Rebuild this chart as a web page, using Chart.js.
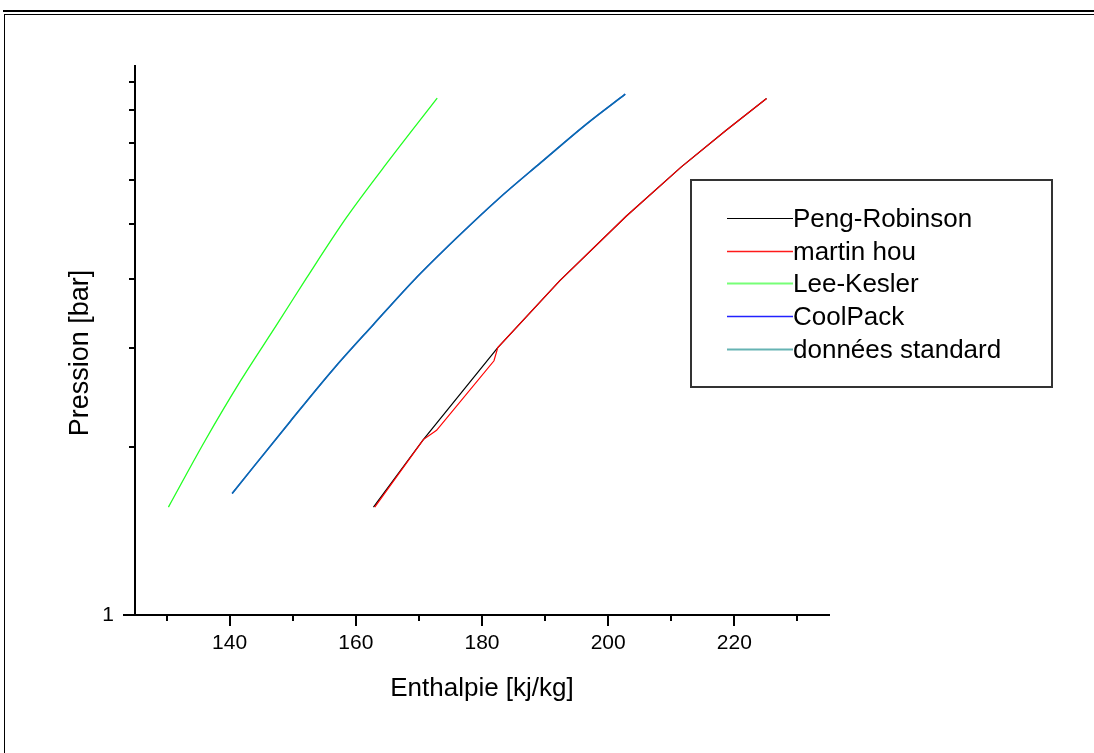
<!DOCTYPE html>
<html>
<head>
<meta charset="utf-8">
<script src="https://cdn.jsdelivr.net/npm/chart.js@4.4.0/dist/chart.umd.min.js"></script>
<style>
  html, body { margin: 0; padding: 0; background: #fff; }
  #wrap { position: relative; width: 1094px; height: 753px; }
</style>
</head>
<body>
<div id="wrap"><canvas id="pChart" width="1094" height="753"></canvas></div>
<script>
// data (enthalpy kJ/kg, pressure bar)
var prX = [162.8, 170.7, 182.5, 192.3, 202.85, 211.55, 218.7, 225.1];
var prY = [1.56, 2.06, 3.01, 3.96, 5.17, 6.33, 7.37, 8.40];

var mhX = [163.0, 170.7, 172.8, 181.9, 182.5, 192.3, 202.85, 211.55, 218.7, 225.1];
var mhY = [1.56, 2.06, 2.14, 2.85, 3.01, 3.96, 5.17, 6.33, 7.37, 8.40];

var lkX = [130.3, 136.1, 141.7, 147.5, 152.2, 158.5, 165.4, 172.9];
var lkY = [1.56, 2.05, 2.62, 3.31, 4.01, 5.14, 6.54, 8.41];

var cpX = [140.4, 149.6, 156.4, 162.8, 169.1, 176.0, 182.5, 189.4, 196.5, 202.7];
var cpY = [1.65, 2.22, 2.75, 3.31, 3.96, 4.73, 5.54, 6.46, 7.55, 8.55];

var stdX = [140.4, 149.6, 156.4, 162.8, 169.1, 176.0, 182.5, 189.4, 196.5, 202.7];
var stdY = [1.65, 2.22, 2.75, 3.31, 3.96, 4.73, 5.54, 6.46, 7.55, 8.55];

var seriesNames = ["Peng-Robinson", "martin hou", "Lee-Kesler", "CoolPack", "données standard"];

var xTicks = [130, 140, 150, 160, 170, 180, 190, 200, 210, 220, 230];
var xTickLabels = ["", "140", "", "160", "", "180", "", "200", "", "220", ""];
var yTicks = [1, 2, 3, 4, 5, 6, 7, 8, 9];
var yTickLabels = ["1", "", "", "", "", "", "", "", ""];

var font = '"Liberation Sans", Arial, sans-serif';

function pts(xs, ys) {
  return xs.map(function(v, i) { return { x: v, y: ys[i] }; });
}

// frame around the figure (double line on top, single on the left)
var framePlugin = {
  id: "frame",
  beforeDraw: function(chart) {
    var ctx = chart.ctx;
    ctx.save();
    ctx.fillStyle = "#000";
    ctx.fillRect(3, 10, 1091, 2);
    ctx.fillRect(4, 14, 1090, 1);
    ctx.fillRect(4, 14, 1, 739);
    ctx.restore();
  }
};

// outward tick marks, long on major and short on minor + y title
var tickPlugin = {
  id: "tickMarks",
  afterDraw: function(chart) {
    var ctx = chart.ctx;
    var xs = chart.scales.x, ys = chart.scales.y;
    ctx.save();
    ctx.strokeStyle = "#000";
    ctx.lineWidth = 2;
    xs.ticks.forEach(function(t) {
      var px = Math.round(xs.getPixelForValue(t.value));
      var len = t.value % 20 === 0 ? 11 : 6;
      ctx.beginPath();
      ctx.moveTo(px, xs.top);
      ctx.lineTo(px, xs.top + len);
      ctx.stroke();
    });
    ys.ticks.forEach(function(t) {
      var py = Math.round(ys.getPixelForValue(t.value));
      var len = t.value === 1 ? 12 : 6;
      ctx.beginPath();
      ctx.moveTo(ys.right, py);
      ctx.lineTo(ys.right - len, py);
      ctx.stroke();
    });
    // y axis title, a bit below the middle like the original
    ctx.translate(81, 353);
    ctx.rotate(-Math.PI / 2);
    ctx.fillStyle = "#000";
    ctx.font = "27px " + font;
    ctx.textAlign = "center";
    ctx.textBaseline = "middle";
    ctx.fillText("Pression [bar]", 0, 0);
    ctx.restore();
  }
};

// legend in a box inside the plot
var boxLegend = {
  id: "boxLegend",
  afterDatasetsDraw: function(chart) {
    var ctx = chart.ctx;
    ctx.save();
    ctx.fillStyle = "#fff";
    ctx.fillRect(691, 180, 361, 207);
    ctx.strokeStyle = "#333";
    ctx.lineWidth = 2;
    ctx.strokeRect(691, 180, 361, 207);
    ctx.font = "26px " + font;
    ctx.textBaseline = "middle";
    chart.data.datasets.forEach(function(ds, i) {
      var y = Math.round(218 + i * 32.7) + 0.5;
      ctx.strokeStyle = ds.legendColor || ds.borderColor;
      ctx.lineWidth = ds.legendWidth || 1;
      ctx.beginPath();
      ctx.moveTo(727, y);
      ctx.lineTo(793, y);
      ctx.stroke();
      ctx.fillStyle = "#000";
      ctx.fillText(ds.label, 793, y + 1);
    });
    ctx.restore();
  }
};

var ctx = document.getElementById("pChart");
var pChart = new Chart(ctx, {
  type: "line",
  data: {
    datasets: [
      { label: seriesNames[0], data: pts(prX, prY), borderColor: "#000000", borderWidth: 1.2, tension: 0, cubicInterpolationMode: "default", order: 3 },
      { label: seriesNames[1], data: pts(mhX, mhY), borderColor: "#ff0000", borderWidth: 1.2, tension: 0, cubicInterpolationMode: "default", legendColor: "#ff1a1a", legendWidth: 1.4, order: 2 },
      { label: seriesNames[2], data: pts(lkX, lkY), borderColor: "#22ff22", borderWidth: 1.3, legendColor: "#77ff77", legendWidth: 2, order: 1 },
      { label: seriesNames[3], data: pts(cpX, cpY), borderColor: "#0000ff", borderWidth: 1.5, legendColor: "#2222ff", legendWidth: 1.4, order: 5 },
      { label: seriesNames[4], data: pts(stdX, stdY), borderColor: "rgba(10,139,150,0.82)", borderWidth: 1.5, legendColor: "#66b3b3", legendWidth: 2, order: 4 }
    ]
  },
  options: {
    responsive: false,
    animation: false,
    layout: { padding: { left: 0, top: 66, right: 265, bottom: 0 } },
    elements: { point: { radius: 0 }, line: { fill: false, cubicInterpolationMode: "monotone" } },
    plugins: { legend: { display: false }, tooltip: { enabled: false } },
    scales: {
      x: {
        type: "linear",
        min: 125,
        max: 235,
        afterBuildTicks: function(s) { s.ticks = xTicks.map(function(v) { return { value: v }; }); },
        afterFit: function(s) { s.height = 138; },
        grid: { display: false, drawTicks: false },
        border: { display: true, color: "#000", width: 2 },
        ticks: {
          autoSkip: false,
          maxRotation: 0,
          color: "#000",
          padding: 16,
          font: { family: font, size: 21 },
          callback: function(v) { return xTickLabels[xTicks.indexOf(v)]; }
        },
        title: {
          display: true,
          text: "Enthalpie [kj/kg]",
          color: "#000",
          font: { family: font, size: 26 },
          padding: { top: 0, bottom: 49 }
        }
      },
      y: {
        type: "logarithmic",
        min: 1,
        max: 9.6,
        afterBuildTicks: function(s) { s.ticks = yTicks.map(function(v) { return { value: v }; }); },
        afterFit: function(s) { s.width = 135; },
        grid: { display: false, drawTicks: false },
        border: { display: true, color: "#000", width: 2 },
        ticks: {
          autoSkip: false,
          color: "#000",
          padding: 21,
          font: { family: font, size: 21 },
          callback: function(v) { return yTickLabels[yTicks.indexOf(v)]; }
        },
        title: { display: false }
      }
    }
  },
  plugins: [framePlugin, tickPlugin, boxLegend]
});
</script>
</body>
</html>
